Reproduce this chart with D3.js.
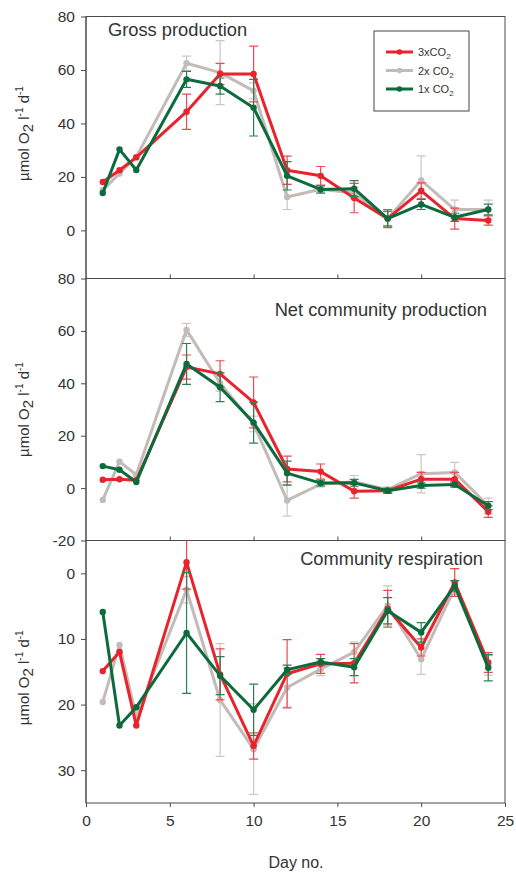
<!DOCTYPE html>
<html>
<head>
<meta charset="utf-8">
<script src="https://cdn.jsdelivr.net/npm/d3@7"></script>
<style>
  html, body { margin: 0; padding: 0; background: #fff; }
  svg { display: block; font-family: "Liberation Sans", Arial, Helvetica, sans-serif; }
</style>
</head>
<body>
<svg id="chart" width="516" height="873"></svg>
<script>
// Sampling days of the mesocosm experiment
const days = [1, 2, 3, 6, 8, 10, 12, 14, 16, 18, 20, 22, 24];

// Gross production (µmol O2 l-1 d-1), means and standard errors
const gross3x = [18.1, 22.5, 27.3, 44.4, 58.5, 58.5, 22.5, 20.4, 12.1, 4.4, 14.8, 4.4, 3.7];
const grossErr3x = [0, 0, 0, 6.6, 4, 10.4, 5.3, 3.5, 5.5, 3.4, 3, 3.9, 1.7];
const gross2x = [15, 21.3, 27.5, 62.5, 59, 52.2, 12.5, 15.4, 14, 4.4, 18.7, 7.8, 7.8];
const grossErr2x = [0, 0, 0, 2.7, 12, 3, 4.7, 1, 2, 2.5, 9.2, 3.5, 3.5];
const gross1x = [14, 30.3, 22.6, 56.5, 54, 45.9, 20.4, 15.3, 15.6, 4.4, 9.7, 4.9, 7.8];
const grossErr1x = [0, 0, 0, 3, 3, 10.6, 5.3, 1.4, 3, 2.8, 1.9, 1.5, 2];

// Net community production
const net3x = [3.2, 3.4, 3.0, 46.2, 43.6, 32.7, 7.3, 6.3, -1.2, -1.0, 3.4, 3.4, -9.0];
const netErr3x = [0, 0, 0, 4.6, 5, 9.7, 4.9, 2.9, 2.6, 1, 2.6, 2.6, 2.2];
const net2x = [-4.5, 10.1, 5.1, 60.4, 40, 24.5, -4.7, 1.5, 2.4, -0.6, 5.5, 6.0, -6.8];
const netErr2x = [0, 0, 0, 2.5, 3, 3, 6, 1, 2.4, 1, 7.3, 3.8, 3];
const net1x = [8.4, 7, 2.3, 47.4, 38.5, 25, 5.7, 1.9, 2.0, -1.0, 1.0, 1.4, -6.7];
const netErr1x = [0, 0, 0, 7.8, 5.5, 7.8, 4.6, 1.1, 1.3, 0.8, 1, 1, 1.5];

// Community respiration (axis runs downward)
const resp3x = [14.9, 12.0, 23.2, -1.7, 15.4, 26.3, 15.3, 13.8, 13.7, 5.4, 11.3, 1.4, 13.6];
const respErr3x = [0, 0, 0, 4.1, 3.9, 2, 5.2, 1.45, 3, 2.8, 1.3, 2.1, 1.5];
const resp2x = [19.6, 10.9, 21.9, 2.5, 19.3, 26.8, 17.4, 14.6, 12.0, 4.9, 13.1, 2.2, 14.0];
const respErr2x = [0, 0, 0, 2, 8.6, 6.9, 3, 1, 1.5, 3, 2.3, 1, 1.5];
const resp1x = [5.9, 23.2, 20.4, 9.1, 15.6, 20.8, 14.7, 13.5, 14.3, 5.7, 9.0, 1.9, 14.4];
const respErr1x = [0, 0, 0, 9.2, 2.9, 3.9, 0.7, 0.5, 1.3, 2, 1.5, 0.8, 2];

// Axis ticks
const xTicks = [0, 5, 10, 15, 20, 25];
const grossTicks = [0, 20, 40, 60, 80];
const netTicks = [-20, 0, 20, 40, 60, 80];
const respTicks = [0, 10, 20, 30];

// Treatments, drawn back to front
const treatments = ["2x", "3x", "1x"];
const colors = { "3x": "#e8232c", "2x": "#c3bbb7", "1x": "#0c6b3c" };
const errColors = { "3x": "#ec4a51", "2x": "#cdc6c3", "1x": "#2f7f55" };

const svg = d3.select("#chart");
const left = 86, right = 505;
const x = d3.scaleLinear().domain([0, 25]).range([left, right]);

const panels = [
  { id: "gross", title: "Gross production", top: 16.5, bottom: 278.5, domain: [-18, 80], ticks: grossTicks,
    series: { "3x": [gross3x, grossErr3x], "2x": [gross2x, grossErr2x], "1x": [gross1x, grossErr1x] },
    titleX: 108, titleY: 36, anchor: "start" },
  { id: "net", title: "Net community production", top: 278.5, bottom: 540.5, domain: [-20, 80], ticks: netTicks,
    series: { "3x": [net3x, netErr3x], "2x": [net2x, netErr2x], "1x": [net1x, netErr1x] },
    titleX: 487, titleY: 316, anchor: "end" },
  { id: "resp", title: "Community respiration", top: 540.5, bottom: 803, domain: [35, -5], ticks: respTicks,
    series: { "3x": [resp3x, respErr3x], "2x": [resp2x, respErr2x], "1x": [resp1x, respErr1x] },
    titleX: 483, titleY: 565, anchor: "end" }
];

const frameColor = "#4a4a4a";
const textColor = "#333";
const plainNumber = d => String(d);

panels.forEach((p, i) => {
  const y = d3.scaleLinear().domain(p.domain).range([p.bottom, p.top]);
  const g = svg.append("g");

  g.append("clipPath").attr("id", "clip-" + p.id)
    .append("rect").attr("x", left).attr("y", p.top)
    .attr("width", right - left).attr("height", p.bottom - p.top);

  // Left value axis
  const yAxis = d3.axisLeft(y).tickValues(p.ticks).tickFormat(plainNumber).tickSize(5).tickPadding(6);
  const ya = g.append("g").attr("transform", `translate(${left},0)`).call(yAxis);
  ya.select(".domain").remove();
  ya.selectAll("line").attr("stroke", frameColor);
  ya.selectAll("text").attr("font-size", 15.5).attr("fill", textColor)
    .attr("font-family", "'Liberation Sans', Arial, sans-serif");

  // Day axis on the bottom edge of each panel
  const isLast = i === panels.length - 1;
  const xAxis = d3.axisBottom(x).tickFormat(isLast ? plainNumber : "")
    .tickValues(xTicks).tickSize(isLast ? 4 : -4).tickPadding(8);
  const xa = g.append("g").attr("transform", `translate(0,${p.bottom})`).call(xAxis);
  xa.select(".domain").remove();
  xa.selectAll("line").attr("stroke", frameColor);
  if (!isLast) xa.selectAll(".tick").filter(d => d === 0 || d === 25).remove();
  xa.selectAll("text").attr("font-size", 15.5).attr("fill", textColor)
    .attr("font-family", "'Liberation Sans', Arial, sans-serif");

  // Panel frame
  g.append("rect").attr("x", left).attr("y", p.top)
    .attr("width", right - left).attr("height", p.bottom - p.top)
    .attr("fill", "none").attr("stroke", frameColor).attr("stroke-width", 1);

  // Panel title
  g.append("text").attr("x", p.titleX).attr("y", p.titleY)
    .attr("text-anchor", p.anchor).attr("font-size", 18.3).attr("fill", textColor)
    .text(p.title);

  // Y axis label
  const label = g.append("text")
    .attr("transform", `translate(29,${(p.top + p.bottom) / 2 + (i === 0 ? -14 : i === 1 ? 0 : 6)}) rotate(-90)`)
    .attr("text-anchor", "middle").attr("font-size", 15).attr("fill", textColor);
  label.append("tspan").text("µmol O");
  label.append("tspan").attr("dy", 4).attr("font-size", 15).text("2");
  label.append("tspan").attr("dy", -4).text(" l");
  label.append("tspan").attr("dy", -6).attr("font-size", 10).text("-1");
  label.append("tspan").attr("dy", 6).text(" d");
  label.append("tspan").attr("dy", -6).attr("font-size", 10).text("-1");

  const plot = g.append("g").attr("clip-path", `url(#clip-${p.id})`);
  treatments.forEach(t => {
    const [vals, errs] = p.series[t];
    const pts = days.map((d, k) => ({ d, v: vals[k], e: errs[k] }));
    const eb = plot.append("g").attr("stroke", errColors[t]).attr("stroke-width", 1.2);
    pts.filter(q => q.e > 0).forEach(q => {
      const y0 = y(q.v - q.e), y1 = y(q.v + q.e), cx = x(q.d);
      eb.append("line").attr("x1", cx).attr("x2", cx).attr("y1", y0).attr("y2", y1);
      eb.append("line").attr("x1", cx - 4.5).attr("x2", cx + 4.5).attr("y1", y0).attr("y2", y0);
      eb.append("line").attr("x1", cx - 4.5).attr("x2", cx + 4.5).attr("y1", y1).attr("y2", y1);
    });
    plot.append("path").datum(pts)
      .attr("fill", "none").attr("stroke", colors[t]).attr("stroke-width", 3)
      .attr("stroke-linejoin", "round")
      .attr("d", d3.line().x(q => x(q.d)).y(q => y(q.v)));
    plot.append("g").selectAll("circle").data(pts).join("circle")
      .attr("cx", q => x(q.d)).attr("cy", q => y(q.v)).attr("r", 3.2)
      .attr("fill", colors[t]);
  });
});

// Left axis line running the full height
svg.append("line").attr("x1", left).attr("x2", left).attr("y1", 16.5).attr("y2", 803)
  .attr("stroke", frameColor);

// X axis title
svg.append("text").attr("x", 296).attr("y", 868).attr("text-anchor", "middle")
  .attr("font-size", 16).attr("fill", textColor).text("Day no.");

// Legend
const legend = svg.append("g");
legend.append("rect").attr("x", 374).attr("y", 31).attr("width", 95).attr("height", 80)
  .attr("fill", "#fff").attr("stroke", "#444").attr("stroke-width", 1);
const legendItems = [["3x", "3xCO"], ["2x", "2x CO"], ["1x", "1x CO"]];
legendItems.forEach(([t, name], k) => {
  const ly = 52 + k * 18.5;
  legend.append("line").attr("x1", 386).attr("x2", 413).attr("y1", ly).attr("y2", ly)
    .attr("stroke", colors[t]).attr("stroke-width", 3);
  legend.append("circle").attr("cx", 399.5).attr("cy", ly).attr("r", 2.8).attr("fill", colors[t]);
  const tx = legend.append("text").attr("x", 418).attr("y", ly + 4)
    .attr("font-size", 11).attr("fill", textColor);
  tx.append("tspan").text(name);
  tx.append("tspan").attr("dy", 3).attr("font-size", 8).text("2");
});
</script>
</body>
</html>
